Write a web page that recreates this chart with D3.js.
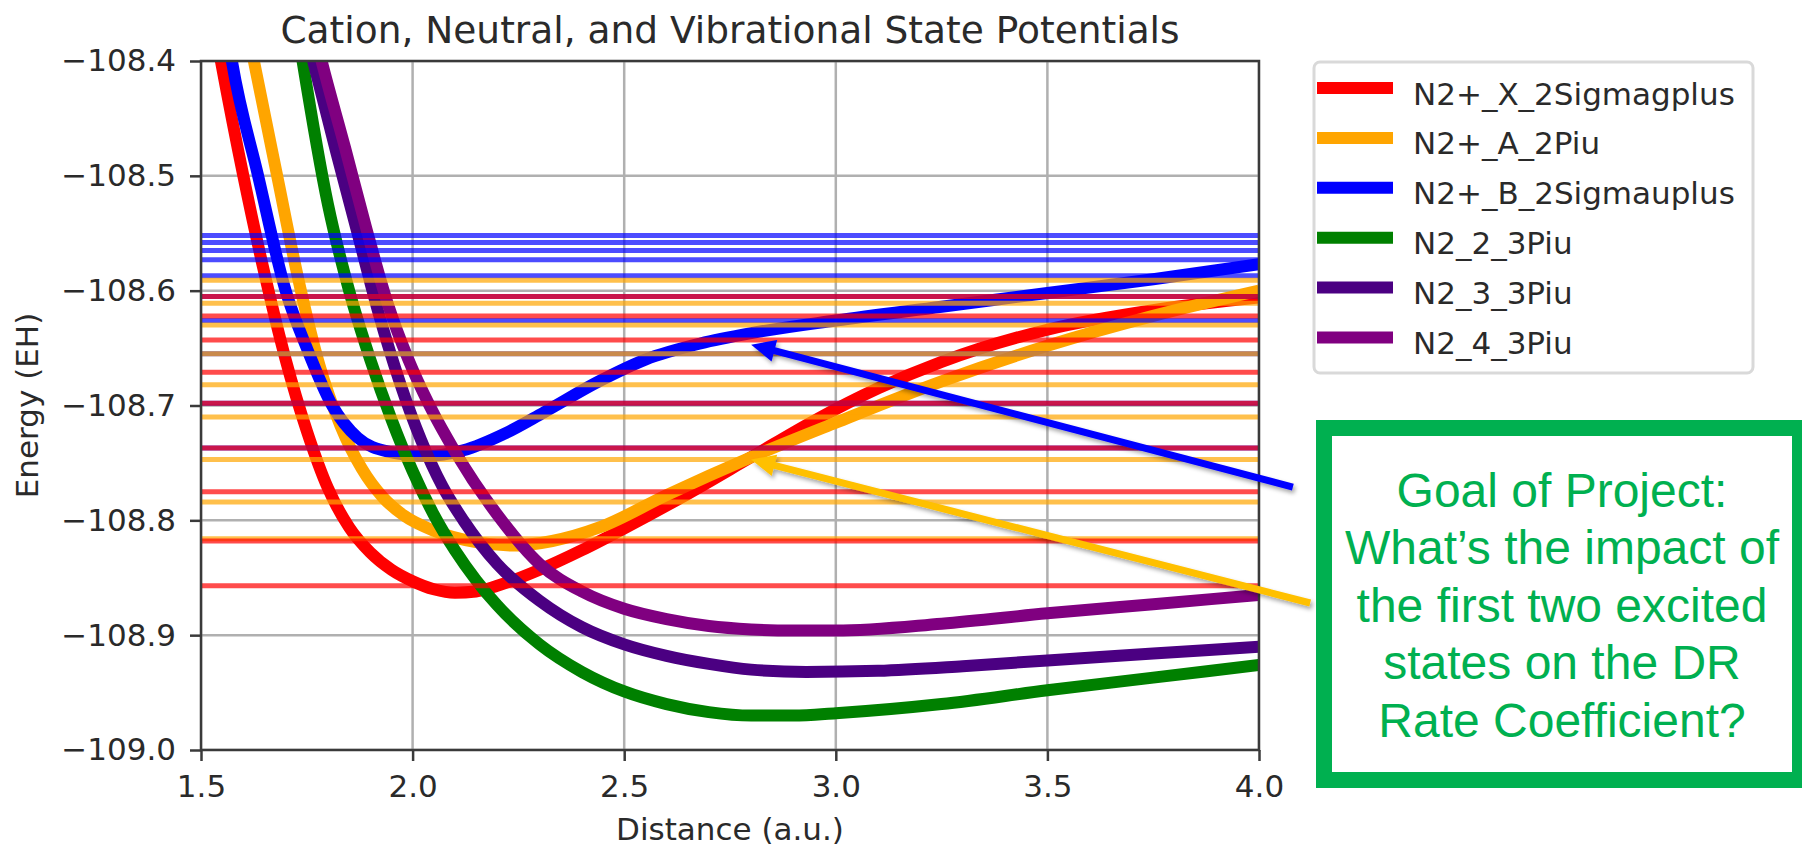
<!DOCTYPE html>
<html>
<head>
<meta charset="utf-8">
<script src="https://cdn.jsdelivr.net/npm/d3@7"></script>
<style>
  html, body { margin: 0; padding: 0; background: #fff; }
  svg { display: block; }
</style>
</head>
<body>
<div id="chart"></div>
<script>
const width = 1802, height = 846;
const plot = {left: 201, right: 1259, top: 61, bottom: 750};

// potential curves, [distance (a.u.), energy (EH)]
const seriesNames = ["N2+_X_2Sigmagplus", "N2+_A_2Piu", "N2+_B_2Sigmauplus", "N2_2_3Piu", "N2_3_3Piu", "N2_4_3Piu"];
const seriesColors = ["red", "orange", "blue", "green", "indigo", "purple"];

const curveX2Sg = [[1.532, -108.37], [1.547, -108.40], [1.60, -108.50], [1.65, -108.585], [1.70, -108.66], [1.75, -108.722],
  [1.80, -108.772], [1.85, -108.806], [1.90, -108.828], [1.95, -108.843], [2.0, -108.853], [2.05, -108.860], [2.1, -108.863],
  [2.15, -108.862], [2.2, -108.857], [2.3, -108.843], [2.4, -108.826], [2.5, -108.807], [2.65, -108.777], [2.8, -108.745],
  [2.95, -108.713], [3.1, -108.685], [3.25, -108.662], [3.5, -108.634], [3.75, -108.617], [4.0, -108.606]];
const curveA2Pu = [[1.609, -108.37], [1.625, -108.40], [1.68, -108.50], [1.73, -108.59], [1.78, -108.665], [1.83, -108.718],
  [1.88, -108.755], [1.93, -108.780], [1.98, -108.796], [2.05, -108.809], [2.15, -108.819], [2.24, -108.822], [2.33, -108.818],
  [2.443, -108.806], [2.6, -108.778], [2.8, -108.745], [3.0, -108.715], [3.25, -108.679], [3.5, -108.648], [3.75, -108.622],
  [4.0, -108.600]];
const curveB2Su = [[1.560, -108.37], [1.573, -108.40], [1.635, -108.50], [1.70, -108.60], [1.75, -108.65], [1.81, -108.70],
  [1.87, -108.728], [1.94, -108.740], [2.03, -108.744], [2.12, -108.739], [2.22, -108.724], [2.31, -108.706], [2.44, -108.679],
  [2.55, -108.660], [2.68, -108.646], [2.8, -108.637], [3.0, -108.626], [3.25, -108.614], [3.5, -108.602], [3.75, -108.590],
  [4.0, -108.577]];
const curveN2_2 = [[1.727, -108.37], [1.74, -108.40], [1.80, -108.525], [1.85, -108.60], [1.90, -108.66], [1.95, -108.712],
  [2.0, -108.757], [2.05, -108.795], [2.1, -108.826], [2.15, -108.852], [2.2, -108.874], [2.3, -108.908], [2.4, -108.932],
  [2.5, -108.949], [2.6, -108.960], [2.7, -108.967], [2.8, -108.970], [2.9, -108.970], [3.0, -108.968], [3.25, -108.960],
  [3.5, -108.948], [3.75, -108.937], [4.0, -108.926]];
const curveN2_3 = [[1.745, -108.37], [1.765, -108.40], [1.82, -108.48], [1.87, -108.55], [1.92, -108.62], [1.97, -108.68],
  [2.02, -108.73], [2.07, -108.77], [2.12, -108.80], [2.2, -108.838], [2.3, -108.870], [2.4, -108.893], [2.5, -108.908],
  [2.6, -108.918], [2.7, -108.925], [2.8, -108.930], [2.93, -108.932], [3.1, -108.931], [3.3, -108.927], [3.5, -108.922],
  [3.75, -108.916], [4.0, -108.910]];
const curveN2_4 = [[1.765, -108.37], [1.785, -108.40], [1.84, -108.475], [1.89, -108.545], [1.94, -108.61], [1.99, -108.66],
  [2.04, -108.70], [2.1, -108.74], [2.2, -108.795], [2.3, -108.838], [2.4, -108.862], [2.5, -108.877], [2.6, -108.886],
  [2.7, -108.892], [2.8, -108.895], [2.9, -108.896], [3.0, -108.896], [3.25, -108.890], [3.5, -108.881], [3.75, -108.873],
  [4.0, -108.865]];
const curves = [curveX2Sg, curveA2Pu, curveB2Su, curveN2_2, curveN2_3, curveN2_4];

// vibrational levels (EH)
const levelsX = [-108.857, -108.818, -108.775, -108.737, -108.698, -108.671, -108.643, -108.622, -108.605];
const levelsA = [-108.816, -108.784, -108.747, -108.710, -108.682, -108.655, -108.630, -108.611, -108.591];
const levelsB = [-108.737, -108.698, -108.655, -108.626, -108.605, -108.587, -108.573, -108.565, -108.558, -108.552];

const xTicks = [1.5, 2.0, 2.5, 3.0, 3.5, 4.0];
const yTicks = [-109.0, -108.9, -108.8, -108.7, -108.6, -108.5, -108.4];

// annotation arrows, [tail, tip] in data units
const arrowB = [[4.080, -108.771], [2.80, -108.647]];
const arrowA = [[4.121, -108.872], [2.80, -108.747]];
const goalLines = ["Goal of Project:", "What\u2019s the impact of", "the first two excited", "states on the DR", "Rate Coefficient?"];

const svg = d3.select("#chart").append("svg")
  .attr("width", width).attr("height", height)
  .style("font-family", "'DejaVu Sans', sans-serif");

const defs = svg.append("defs");
defs.append("clipPath").attr("id", "plotclip")
  .append("rect")
  .attr("x", plot.left).attr("y", plot.top)
  .attr("width", plot.right - plot.left).attr("height", plot.bottom - plot.top);
defs.append("filter").attr("id", "shadow")
  .attr("x", "-10%").attr("y", "-10%").attr("width", "120%").attr("height", "130%")
  .append("feDropShadow")
  .attr("dx", 2).attr("dy", 3).attr("stdDeviation", 2)
  .attr("flood-color", "#000").attr("flood-opacity", 0.35);

const x = d3.scaleLinear().domain([1.5, 4.0]).range([plot.left, plot.right]);
const y = d3.scaleLinear().domain([-109.0, -108.4]).range([plot.bottom, plot.top]);

// grid
const grid = svg.append("g").attr("clip-path", "url(#plotclip)");
grid.selectAll(".gx").data(xTicks).join("line")
  .attr("x1", d => x(d)).attr("x2", d => x(d))
  .attr("y1", plot.top).attr("y2", plot.bottom)
  .attr("stroke", "#b0b0b0").attr("stroke-width", 2.5);
grid.selectAll(".gy").data(yTicks).join("line")
  .attr("x1", plot.left).attr("x2", plot.right)
  .attr("y1", d => y(d)).attr("y2", d => y(d))
  .attr("stroke", "#b0b0b0").attr("stroke-width", 2.5);

// potential curves
const line = d3.line()
  .x(d => x(d[0])).y(d => y(d[1]))
  .curve(d3.curveMonotoneX);

svg.append("g").attr("clip-path", "url(#plotclip)")
  .selectAll("path")
  .data(curves)
  .join("path")
  .attr("d", line)
  .attr("fill", "none")
  .attr("stroke", (d, i) => seriesColors[i])
  .attr("stroke-width", 12)
  .attr("stroke-linejoin", "round");

// vibrational levels on top
const levelSets = [
  {values: levelsB, color: "blue"},
  {values: levelsA, color: "orange"},
  {values: levelsX, color: "red"}
];
const lv = svg.append("g").attr("clip-path", "url(#plotclip)");
levelSets.forEach(s => {
  lv.append("g").selectAll("line")
    .data(s.values)
    .join("line")
    .attr("x1", x(1.5)).attr("x2", x(4.0))
    .attr("y1", d => y(d)).attr("y2", d => y(d))
    .attr("stroke", s.color)
    .attr("stroke-opacity", 0.7)
    .attr("stroke-width", 5);
});

// axes
const axisColor = "#3a3a3a", textColor = "#2a2a2a";
const xAxis = svg.append("g")
  .attr("transform", `translate(0,${plot.bottom})`)
  .call(d3.axisBottom(x).tickValues(xTicks).tickFormat(d3.format(".1f")).tickSize(11).tickPadding(14));
const yAxis = svg.append("g")
  .attr("transform", `translate(${plot.left},0)`)
  .call(d3.axisLeft(y).tickValues(yTicks).tickFormat(d3.format(".1f")).tickSize(11).tickPadding(14));
[xAxis, yAxis].forEach(a => {
  a.select(".domain").remove();
  a.selectAll(".tick line").attr("stroke", axisColor).attr("stroke-width", 2.5);
  a.selectAll(".tick text")
    .attr("fill", textColor)
    .style("font-family", "'DejaVu Sans', sans-serif")
    .style("font-size", "31px");
});

svg.append("rect")
  .attr("x", plot.left).attr("y", plot.top)
  .attr("width", plot.right - plot.left).attr("height", plot.bottom - plot.top)
  .attr("fill", "none")
  .attr("stroke", axisColor)
  .attr("stroke-width", 2.5);

svg.append("text")
  .attr("x", (plot.left + plot.right) / 2).attr("y", 42.5)
  .attr("text-anchor", "middle")
  .attr("fill", textColor)
  .style("font-size", "37.5px")
  .text("Cation, Neutral, and Vibrational State Potentials");

svg.append("text")
  .attr("x", (plot.left + plot.right) / 2).attr("y", 840)
  .attr("text-anchor", "middle")
  .attr("fill", textColor)
  .style("font-size", "31px")
  .text("Distance (a.u.)");

svg.append("text")
  .attr("transform", `translate(38,${(plot.top + plot.bottom) / 2}) rotate(-90)`)
  .attr("text-anchor", "middle")
  .attr("fill", textColor)
  .style("font-size", "31px")
  .text("Energy (EH)");

// legend
const legend = svg.append("g");
legend.append("rect")
  .attr("x", 1314).attr("y", 62)
  .attr("width", 439).attr("height", 311)
  .attr("rx", 6)
  .attr("fill", "#fff")
  .attr("stroke", "#d9d9d9")
  .attr("stroke-width", 3);
const items = legend.selectAll(".item")
  .data(seriesNames)
  .join("g")
  .attr("transform", (d, i) => `translate(0,${88 + i * 49.9})`);
items.append("line")
  .attr("x1", 1317).attr("x2", 1393)
  .attr("stroke", (d, i) => seriesColors[i])
  .attr("stroke-width", 12);
items.append("text")
  .attr("x", 1413).attr("y", 16.5)
  .attr("fill", textColor)
  .style("font-size", "31px")
  .text(d => d);

// annotation arrows
function drawArrow(pts, color) {
  const x1 = x(pts[0][0]), y1 = y(pts[0][1]), x2 = x(pts[1][0]), y2 = y(pts[1][1]);
  const L = 24, W = 11;
  const len = Math.hypot(x2 - x1, y2 - y1), ux = (x2 - x1) / len, uy = (y2 - y1) / len;
  const bx = x2 - ux * L, by = y2 - uy * L;
  const g = svg.append("g").attr("filter", "url(#shadow)");
  g.append("line")
    .attr("x1", x1).attr("y1", y1).attr("x2", bx + ux * 2).attr("y2", by + uy * 2)
    .attr("stroke", color).attr("stroke-width", 7);
  g.append("path")
    .attr("d", `M${x2},${y2}L${bx - uy * W},${by + ux * W}L${bx + uy * W},${by - ux * W}Z`)
    .attr("fill", color);
}
drawArrow(arrowB, "#0000ff");
drawArrow(arrowA, "#ffc000");

// goal box
const goal = svg.append("g");
goal.append("rect")
  .attr("x", 1324).attr("y", 428)
  .attr("width", 476).attr("height", 352)
  .attr("fill", "#fff")
  .attr("stroke", "#00b050")
  .attr("stroke-width", 16);
goal.selectAll("text")
  .data(goalLines)
  .join("text")
  .attr("x", 1562)
  .attr("y", (d, i) => 506.5 + i * 57.6)
  .attr("text-anchor", "middle")
  .attr("fill", "#00b050")
  .style("font-family", "'Liberation Sans', Arial, sans-serif")
  .style("font-size", "48px")
  .text(d => d);
</script>
</body>
</html>
